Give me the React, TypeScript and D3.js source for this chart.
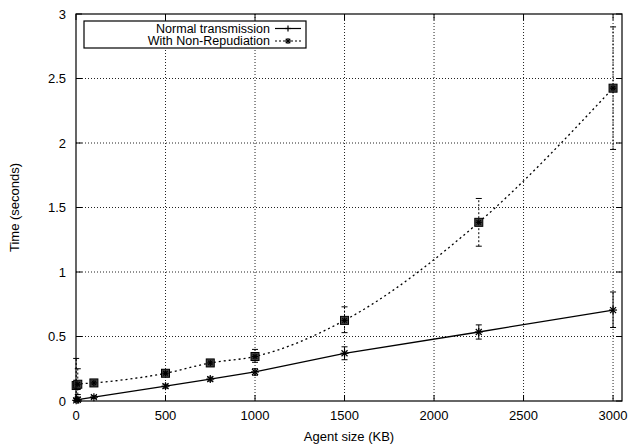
import * as d3 from 'd3'

const W = 629
const H = 447
const margin = { left: 76, right: 7, top: 14, bottom: 46 }

// agent sizes (KB)
const sizes = [1, 10, 100, 500, 750, 1000, 1500, 2250, 3000]
const normalMean = [0.005, 0.01, 0.03, 0.115, 0.17, 0.225, 0.37, 0.535, 0.705]
const normalLow = [0.0, 0.0, 0.02, 0.1, 0.155, 0.2, 0.32, 0.48, 0.57]
const normalHigh = [0.02, 0.03, 0.04, 0.13, 0.185, 0.25, 0.42, 0.59, 0.845]
const nrMean = [0.12, 0.13, 0.14, 0.215, 0.295, 0.345, 0.625, 1.385, 2.425]
const nrLow = [0.0, 0.05, 0.125, 0.19, 0.27, 0.3, 0.53, 1.2, 1.95]
const nrHigh = [0.33, 0.25, 0.155, 0.24, 0.32, 0.4, 0.73, 1.57, 2.9]

const xTicks = [0, 500, 1000, 1500, 2000, 2500, 3000]
const yTicks = [0, 0.5, 1, 1.5, 2, 2.5, 3]
const legendLabels = ['Normal transmission', 'With Non-Repudiation']

const font = '"Liberation Sans", Arial, sans-serif'

const Star = ({ x, y, r = 4 }: { x: number; y: number; r?: number }) => (
    <g stroke="black" strokeWidth={1.2}>
        <line x1={x - r} y1={y} x2={x + r} y2={y} />
        <line x1={x} y1={y - r} x2={x} y2={y + r} />
        <line x1={x - r * 0.75} y1={y - r * 0.75} x2={x + r * 0.75} y2={y + r * 0.75} />
        <line x1={x - r * 0.75} y1={y + r * 0.75} x2={x + r * 0.75} y2={y - r * 0.75} />
    </g>
)

const Cross = ({ x, y, r = 4 }: { x: number; y: number; r?: number }) => (
    <g stroke="black" strokeWidth={1.2}>
        <line x1={x - r} y1={y} x2={x + r} y2={y} />
        <line x1={x} y1={y - r} x2={x} y2={y + r} />
    </g>
)

const Box = ({ x, y }: { x: number; y: number }) => (
    <g>
        <rect x={x - 4} y={y - 4} width={8} height={8} fill="#444" stroke="black" strokeWidth={1} />
        <Star x={x} y={y} r={3} />
    </g>
)

export default function App() {
    const innerW = W - margin.left - margin.right
    const innerH = H - margin.top - margin.bottom
    const x = d3.scaleLinear().domain([0, 3050]).range([0, innerW])
    const y = d3.scaleLinear().domain([0, 3]).range([innerH, 0])

    const lineStraight = d3
        .line<number>()
        .x((_, i) => x(sizes[i]))
        .y((d) => y(d))
    const lineCurve = d3
        .line<number>()
        .x((_, i) => x(sizes[i]))
        .y((d) => y(d))
        .curve(d3.curveMonotoneX)

    const errorBar = (i: number, lo: number[], hi: number[], dashed: boolean, key: string) => {
        const cx = x(sizes[i])
        return (
            <g key={key} stroke="black" strokeWidth={1}>
                <line x1={cx} x2={cx} y1={y(lo[i])} y2={y(hi[i])} strokeDasharray={dashed ? '2,2' : undefined} />
                <line x1={cx - 3} x2={cx + 3} y1={y(lo[i])} y2={y(lo[i])} />
                <line x1={cx - 3} x2={cx + 3} y1={y(hi[i])} y2={y(hi[i])} />
            </g>
        )
    }

    return (
        <svg width={W} height={H} style={{ position: 'absolute', left: 0, top: 0 }} fontFamily={font}>
            <rect width={W} height={H} fill="white" />
            <g transform={`translate(${margin.left},${margin.top})`}>
                {/* grid */}
                {yTicks.slice(1, -1).map((t) => (
                    <line key={`gy${t}`} x1={0} x2={innerW} y1={y(t)} y2={y(t)} stroke="#222" strokeWidth={1} strokeDasharray="1,2" />
                ))}
                {xTicks.slice(1).map((t) => (
                    <line key={`gx${t}`} x1={x(t)} x2={x(t)} y1={0} y2={innerH} stroke="#222" strokeWidth={1} strokeDasharray="1,2" />
                ))}
                {/* ticks */}
                {yTicks.map((t) => (
                    <g key={`ty${t}`}>
                        <line x1={0} x2={6} y1={y(t)} y2={y(t)} stroke="black" />
                        <line x1={innerW - 6} x2={innerW} y1={y(t)} y2={y(t)} stroke="black" />
                        <text x={-10} y={y(t)} dy="0.35em" textAnchor="end" fontSize={13}>
                            {t}
                        </text>
                    </g>
                ))}
                {xTicks.map((t) => (
                    <g key={`tx${t}`}>
                        <line x1={x(t)} x2={x(t)} y1={innerH} y2={innerH - 6} stroke="black" />
                        <line x1={x(t)} x2={x(t)} y1={0} y2={6} stroke="black" />
                        <text x={x(t)} y={innerH + 19} textAnchor="middle" fontSize={13}>
                            {t}
                        </text>
                    </g>
                ))}
                {/* error bars */}
                {sizes.map((_, i) => errorBar(i, nrLow, nrHigh, true, `en${i}`))}
                {sizes.map((_, i) => errorBar(i, normalLow, normalHigh, false, `eo${i}`))}
                {/* lines */}
                <path d={lineCurve(nrMean) ?? ''} fill="none" stroke="black" strokeWidth={1.3} strokeDasharray="2,3" />
                <path d={lineStraight(normalMean) ?? ''} fill="none" stroke="black" strokeWidth={1.3} />
                {/* points */}
                {nrMean.map((v, i) => (
                    <Box key={`pn${i}`} x={x(sizes[i])} y={y(v)} />
                ))}
                {normalMean.map((v, i) => (
                    <Star key={`po${i}`} x={x(sizes[i])} y={y(v)} />
                ))}
                {/* frame */}
                <rect x={0} y={0} width={innerW} height={innerH} fill="none" stroke="black" strokeWidth={1.2} />
                {/* legend */}
                <g transform="translate(8,7)">
                    <rect x={0} y={0} width={222} height={27} fill="white" stroke="black" strokeWidth={1.2} />
                    {legendLabels.map((label, i) => {
                        const ly = 7.5 + i * 12.5
                        return (
                            <g key={label}>
                                <text x={186} y={ly} dy="0.35em" textAnchor="end" fontSize={12.5}>
                                    {label}
                                </text>
                                <line
                                    x1={191}
                                    x2={217}
                                    y1={ly}
                                    y2={ly}
                                    stroke="black"
                                    strokeWidth={1.2}
                                    strokeDasharray={i === 1 ? '2,2' : undefined}
                                />
                                {i === 0 ? <Cross x={204} y={ly} r={3} /> : <Star x={204} y={ly} r={3} />}
                            </g>
                        )
                    })}
                </g>
            </g>
            <text x={margin.left + innerW / 2} y={H - 6} textAnchor="middle" fontSize={13}>
                Agent size (KB)
            </text>
            <text transform={`translate(19,${margin.top + innerH / 2}) rotate(-90)`} textAnchor="middle" fontSize={13}>
                Time (seconds)
            </text>
        </svg>
    )
}
